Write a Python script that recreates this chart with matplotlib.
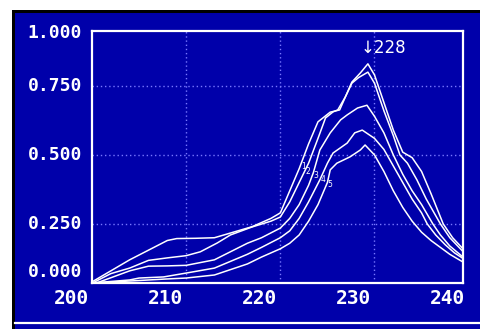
import matplotlib
matplotlib.use("Agg")
import matplotlib.pyplot as plt
import numpy as np

# 5本のスペクトル (波長 nm, 吸光度)
wl_1 = [200, 202, 204, 206, 208, 209, 211, 213, 215, 217, 219, 220, 221, 222, 223, 224,
        225.3, 226.3, 227.1, 227.6, 228.5, 229.3, 230, 231, 232, 233, 234, 235, 236,
        237.3, 238.3, 239.4]
abs_1 = [0.04, 0.08, 0.12, 0.155, 0.19, 0.197, 0.198, 0.20, 0.22, 0.24, 0.27, 0.29,
         0.37, 0.45, 0.54, 0.62, 0.655, 0.663, 0.725, 0.764, 0.797, 0.83, 0.79, 0.69,
         0.59, 0.51, 0.49, 0.44, 0.36, 0.25, 0.20, 0.16]

wl_2 = [200, 202, 204, 206, 208, 210, 211.5, 213.3, 214.7, 217, 219, 220, 221, 222,
        223, 224, 224.8, 225.6, 226.1, 226.9, 227.6, 228.3, 229.3, 230, 231, 232,
        232.7, 233.5, 234.5, 235.5, 237, 238, 239.4]
abs_2 = [0.035, 0.07, 0.09, 0.118, 0.127, 0.135, 0.149, 0.181, 0.21, 0.239, 0.26,
         0.275, 0.33, 0.40, 0.47, 0.56, 0.634, 0.656, 0.663, 0.71, 0.76, 0.78, 0.80,
         0.76, 0.66, 0.57, 0.50, 0.47, 0.41, 0.34, 0.25, 0.20, 0.15]

wl_3 = [200, 202, 204, 206, 208, 210, 213, 216.5, 218, 220, 221, 222, 223, 223.5,
        224.2, 225.3, 226.4, 227.1, 228.2, 229.2, 230, 231, 232, 233, 234, 235, 236.2,
        237, 238, 239.4]
abs_3 = [0.03, 0.055, 0.08, 0.097, 0.098, 0.10, 0.12, 0.18, 0.20, 0.235, 0.27, 0.32,
         0.39, 0.435, 0.518, 0.58, 0.627, 0.645, 0.67, 0.68, 0.64, 0.58, 0.50, 0.43,
         0.37, 0.32, 0.25, 0.21, 0.17, 0.13]

wl_4 = [200, 204, 205, 207.6, 210, 213, 216.5, 218, 220, 221, 222, 223, 224.2, 225,
        225.6, 227.1, 227.9, 228.7, 230, 231, 232, 233, 234, 235, 235.6, 236.5, 237.5,
        238.5, 239.4]
abs_4 = [0.036, 0.047, 0.054, 0.058, 0.072, 0.09, 0.14, 0.165, 0.20, 0.225, 0.27, 0.33,
         0.41, 0.47, 0.507, 0.543, 0.58, 0.59, 0.56, 0.52, 0.46, 0.40, 0.34, 0.29,
         0.25, 0.21, 0.175, 0.145, 0.125]

wl_5 = [200, 205, 207.6, 210, 213, 216.5, 218, 220, 221, 222, 223, 224, 225, 225.3,
        226, 227.4, 228.5, 229, 230, 231, 232, 233, 234, 235, 236, 237, 238, 239.4]
abs_5 = [0.036, 0.045, 0.05, 0.054, 0.065, 0.105, 0.13, 0.16, 0.18, 0.21, 0.26, 0.32,
         0.40, 0.446, 0.47, 0.493, 0.518, 0.536, 0.50, 0.44, 0.37, 0.31, 0.26, 0.22,
         0.19, 0.165, 0.14, 0.112]

curves = [(wl_1, abs_1), (wl_2, abs_2), (wl_3, abs_3), (wl_4, abs_4), (wl_5, abs_5)]
curve_names = ["1", "2", "3", "4", "5"]

x_ticks = [200, 210, 220, 230, 240]
x_tick_labels = ["200", "210", "220", "230", "240"]
y_ticks = [0.25, 0.5, 0.75]
y_tick_labels = ["0.250", "0.500", "0.750"]
peak_label = "228"

BLUE = "#0000aa"
GRID = "#7878ff"

fig = plt.figure(figsize=(4.81, 3.29), dpi=100, facecolor="white")

# 画面の枠 (黒) と青い背景
fig.patches.append(plt.Rectangle((12 / 481, 0), 1, 319 / 329, transform=fig.transFigure,
                                 facecolor="black", edgecolor="none", zorder=-10))
fig.patches.append(plt.Rectangle((15 / 481, 0), 1, 316 / 329, transform=fig.transFigure,
                                 facecolor=BLUE, edgecolor="none", zorder=-9))
fig.lines.append(plt.Line2D([15 / 481, 1], [6 / 329, 6 / 329], transform=fig.transFigure,
                            color="white", lw=1.6, zorder=-8))

ax = fig.add_axes([92 / 481, 46 / 329, 371 / 481, 252 / 329])
ax.set_facecolor(BLUE)
for s in ax.spines.values():
    s.set_color("white")
    s.set_linewidth(1.6)

for wl, ab in curves:
    ax.plot(wl, ab, color="white", lw=1.1)

ax.set_xlim(200, 239.4)
ax.set_ylim(0.036, 0.949)

# グリッド (点線)
for t in x_ticks[1:-1]:
    ax.axvline(t, color=GRID, lw=1, ls=(0, (1, 2)), zorder=0)
for t in y_ticks:
    ax.axhline(t, color=GRID, lw=1, ls=(0, (1, 2)), zorder=0)

ax.set_xticks([])
ax.set_yticks([])

mono = dict(family="DejaVu Sans Mono", weight="bold", size=13, color="white")
mono_x = dict(mono, size=14)

for t, lab in zip(x_ticks, x_tick_labels):
    ax.annotate(lab, xy=(t, 0), xycoords=("data", "axes fraction"),
                xytext=(-21, -15), textcoords="offset pixels",
                ha="center", va="center", annotation_clip=False, **mono_x)

for t, lab in zip(y_ticks, y_tick_labels):
    ax.annotate(lab, xy=(0, t), xycoords=("axes fraction", "data"),
                xytext=(-10, 0), textcoords="offset pixels",
                ha="right", va="center", **mono)
# 端のラベル
ax.annotate("1.000", xy=(0, 0.992), xycoords="axes fraction", xytext=(-10, 0),
            textcoords="offset pixels", ha="right", va="center", **mono)
ax.annotate("0.000", xy=(0, 0.044), xycoords="axes fraction", xytext=(-10, 0),
            textcoords="offset pixels", ha="right", va="center", **mono)

# 曲線番号
for i, ((wl, ab), name) in enumerate(zip(curves, curve_names)):
    wl = np.array(wl)
    ab = np.array(ab)
    k = int(np.argmax(ab))
    level = 0.45 - 0.016 * i
    xpos = np.interp(level, ab[:k + 1], wl[:k + 1])
    ax.annotate(name, xy=(xpos, level), xytext=(2, 2), textcoords="offset pixels",
                fontsize=5.5, color="white", ha="left", va="center")

# ピーク位置
k1 = int(np.argmax(abs_1))
ax.annotate("\u2193" + peak_label, xy=(wl_1[k1], abs_1[k1]), xytext=(-7, 16),
            textcoords="offset pixels", ha="left", va="center",
            fontsize=12, color="white", family="DejaVu Sans")

fig.savefig("out.png", dpi=100, facecolor="white")
